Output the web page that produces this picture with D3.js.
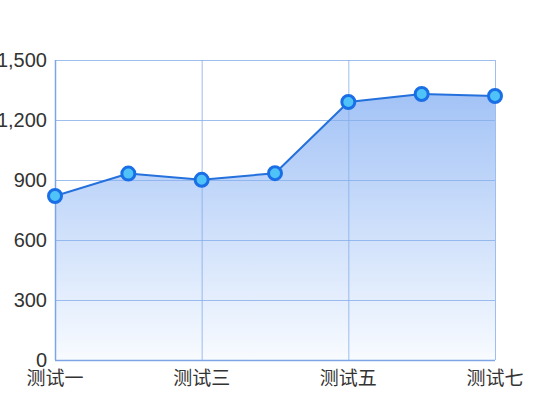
<!DOCTYPE html>
<html><head><meta charset="utf-8">
<script src="https://cdn.jsdelivr.net/npm/d3@7"></script>
<style>body{margin:0;background:#fff}svg{display:block}</style>
</head><body>
<svg id="c" width="550" height="420"></svg>
<script>
const categories = ["测试一","测试二","测试三","测试四","测试五","测试六","测试七"];
const values = [820, 932, 901, 934, 1290, 1330, 1320];
const yTicks = [0, 300, 600, 900, 1200, 1500];
const xLabelCats = ["测试一","测试三","测试五","测试七"];

const svg = d3.select("#c");
const L = 55, R = 495, T = 60, B = 360;
const x = d3.scalePoint().domain(categories).range([L, R]);
const y = d3.scaleLinear().domain([0, 1500]).range([B, T]);
const font = "'Liberation Sans','Noto Sans CJK SC',sans-serif";

const defs = svg.append("defs");
const g = defs.append("linearGradient").attr("id","ag")
  .attr("gradientUnits","userSpaceOnUse").attr("x1",0).attr("y1",y(d3.max(values))).attr("x2",0).attr("y2",B);
g.append("stop").attr("offset","0%").attr("stop-color","#a3c3f6");
g.append("stop").attr("offset","100%").attr("stop-color","#f8fbff");

svg.append("path").datum(values)
  .attr("d", d3.area().x((d,i)=>x(categories[i])).y0(B).y1(d=>y(d)))
  .attr("fill","url(#ag)");

const grid = svg.append("g").attr("stroke","#86aeea").attr("stroke-opacity",0.8).attr("stroke-width",1);
yTicks.forEach(t => grid.append("line").attr("x1",L).attr("x2",R).attr("y1",y(t)+0.5).attr("y2",y(t)+0.5));
xLabelCats.forEach(c => grid.append("line").attr("x1",x(c)+0.5).attr("x2",x(c)+0.5).attr("y1",T).attr("y2",B));

svg.append("line").attr("x1",L+0.5).attr("x2",L+0.5).attr("y1",T).attr("y2",B).attr("stroke","#7ea6e6").attr("stroke-width",1.5);
svg.append("line").attr("x1",L).attr("x2",R).attr("y1",B+0.5).attr("y2",B+0.5).attr("stroke","#7ea6e6").attr("stroke-width",1.5);

svg.append("g").selectAll("text").data(yTicks).join("text")
  .attr("x", L-8).attr("y", d=>y(d)).attr("dy","0.36em")
  .attr("text-anchor","end").attr("font-family",font).attr("font-size",20).attr("fill","#333")
  .text(d=>d3.format(",")(d));

svg.append("g").selectAll("text").data(xLabelCats).join("text")
  .attr("x", d=>x(d)).attr("y", 385)
  .attr("text-anchor","middle").attr("font-family",font).attr("font-size",19).attr("fill","#333")
  .text(d=>d);

svg.append("path").datum(values)
  .attr("d", d3.line().x((d,i)=>x(categories[i])).y(d=>y(d)))
  .attr("fill","none").attr("stroke","#2470dc").attr("stroke-width",2);

svg.append("g").selectAll("circle").data(values).join("circle")
  .attr("cx",(d,i)=>x(categories[i])).attr("cy",d=>y(d)).attr("r",6.5)
  .attr("fill","#4fc3f7").attr("stroke","#1a6fe6").attr("stroke-width",3);
</script>
</body></html>
